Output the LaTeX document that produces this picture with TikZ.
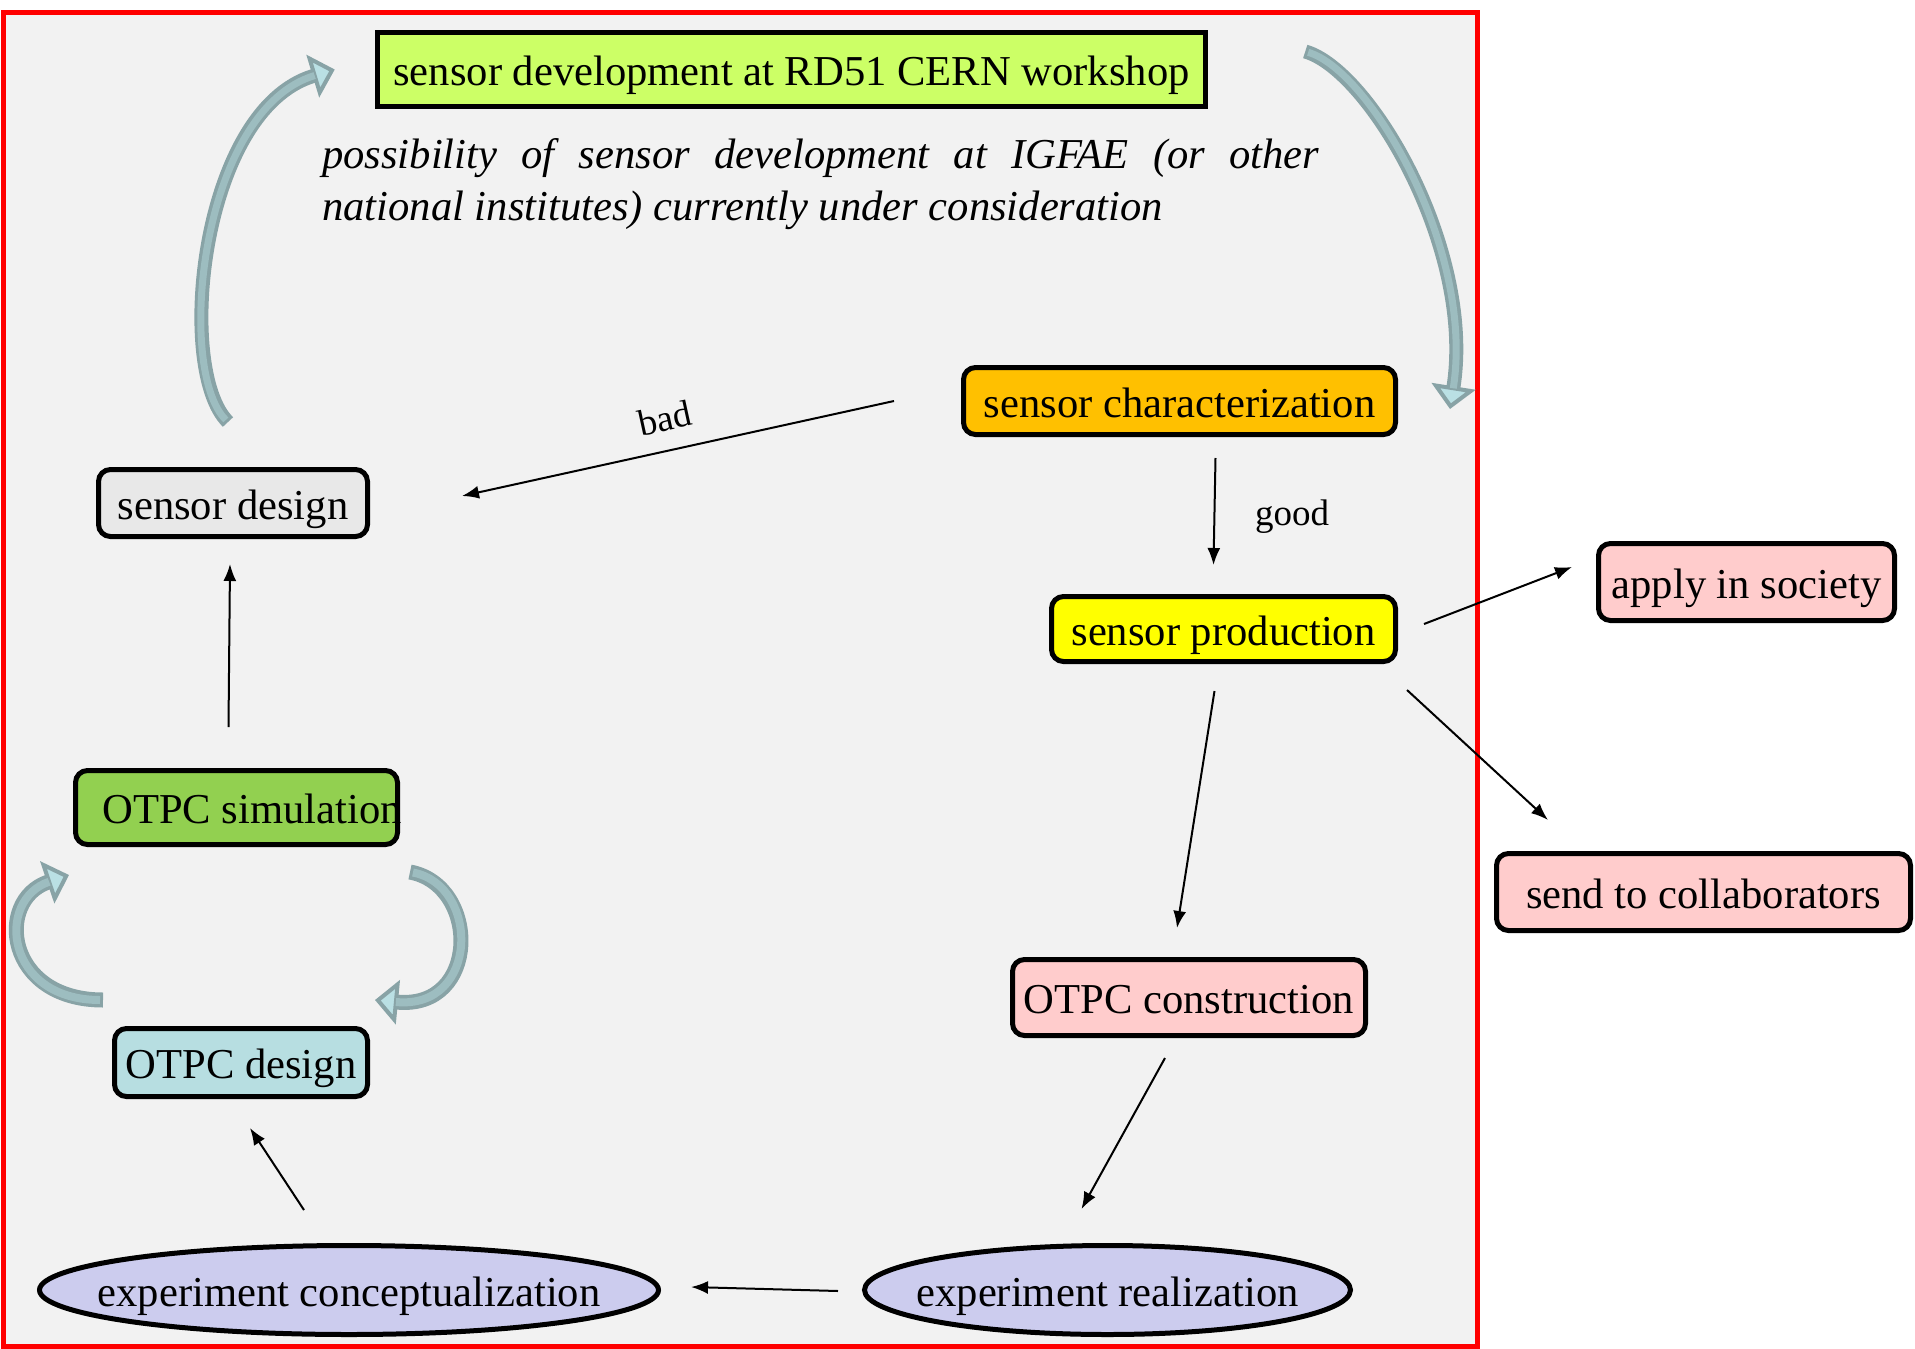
\documentclass[tikz,border=0pt]{standalone}
\usepackage{fontspec}
\setmainfont{Liberation Serif}
\usetikzlibrary{arrows.meta,shapes.geometric,calc}

\definecolor{frameRed}{HTML}{FF0000}
\definecolor{bgGray}{HTML}{F2F2F2}
\definecolor{limeFill}{HTML}{CCFF66}
\definecolor{orangeFill}{HTML}{FFC000}
\definecolor{grayFill}{HTML}{E8E8E8}
\definecolor{yellowFill}{HTML}{FFFF00}
\definecolor{pinkFill}{HTML}{FFCCCC}
\definecolor{greenFill}{HTML}{92D050}
\definecolor{blueFill}{HTML}{B7DEE1}
\definecolor{lavFill}{HTML}{CCCCEE}
\definecolor{bendDark}{HTML}{88A3A6}
\definecolor{bendMid}{HTML}{9DBDC0}
\definecolor{bendLight}{HTML}{BAE0E4}

\newcommand{\blockBend}[5]{%
  \draw[line width=#5+7pt, draw=bendDark,
    -{Triangle[length=23pt,width=44pt,line width=4pt,fill=bendLight,color=bendDark]}]
    #1 .. controls #2 and #3 .. #4;
  \draw[line width=#5, draw=bendMid, shorten >=21pt, shorten <=3pt]
    #1 .. controls #2 and #3 .. #4;
}

\begin{document}
\begin{tikzpicture}[x=1pt,y=-1pt,
  every node/.style={font=\fontsize{42.6pt}{51pt}\selectfont, inner sep=0pt},
  txt/.style={text height=41pt, text depth=9pt},
  box/.style={txt, draw=black, line width=5pt, rounded corners=12pt},
  oval/.style={txt, ellipse, draw=black, line width=5pt, fill=lavFill},
  arr/.style={line width=2pt, -{Latex[length=17pt,width=13pt]}},
  lab/.style={font=\fontsize{37pt}{44pt}\selectfont},
  note/.style={font=\fontsize{42.6pt}{51pt}\selectfont\itshape, anchor=base west}
]
\path[use as bounding box] (0,0) rectangle (1915,1349);
\draw[frameRed, fill=bgGray, line width=5pt] (3,12) rectangle (1477,1346);

% nodes
\node[txt, draw=black, line width=5.5pt, fill=limeFill, minimum width=828pt, minimum height=74pt] (top) at (791.5,69.5) {sensor development at RD51 CERN workshop};
\node[note] (note1) at (322,168) {\makebox[997pt][s]{possibility of sensor development at IGFAE (or other}};
\node[note] (note2) at (322,220) {national institutes) currently under consideration};

\node[box, fill=orangeFill, minimum width=432pt, minimum height=67pt] (char) at (1179.5,401) {sensor characterization};
\node[box, fill=grayFill, minimum width=269pt, minimum height=67pt] (design) at (233,503) {sensor design};
\node[box, fill=yellowFill, minimum width=344pt, minimum height=65pt] (prod) at (1223.5,629) {sensor production};
\node[box, fill=pinkFill, minimum width=296pt, minimum height=77pt] (apply) at (1746.5,582) {apply in society};
\node[box, fill=pinkFill, minimum width=414pt, minimum height=77pt] (collab) at (1703.5,892) {send to collaborators};
\node[box, fill=greenFill, minimum width=322pt, minimum height=74pt] (sim) at (236.5,807.5) {\makebox[0pt]{\hspace{31pt}OTPC simulation}};
\node[box, fill=blueFill, minimum width=253pt, minimum height=68pt] (odesign) at (241,1062.5) {OTPC design};
\node[box, fill=pinkFill, minimum width=353pt, minimum height=76pt] (constr) at (1189,997.5) {OTPC construction};
\node[oval, minimum width=619pt, minimum height=89pt] (concept) at (349,1290) {\makebox[0pt]{experiment conceptualization}};
\node[oval, minimum width=486pt, minimum height=89pt] (real) at (1107.5,1290) {\makebox[0pt]{experiment realization}};

% connectors
\draw[arr] ($(char.west)+(-67,0)$) -- ($(design.east)+(92,-7)$);
\node[lab, rotate=12.3] (badlab) at (665,418) {bad};
\draw[arr] ($(char.south)+(36,21)$) -- ($(prod.north)+(-10,-29)$);
\node[lab] (goodlab) at (1292,517) {good};
\draw[arr] ($(sim.north)+(-8,-41)$) -- ($(design.south)+(-3,25)$);
\draw[arr] ($(prod.south)+(-9,27)$) -- ($(constr.north)+(-12,-29)$);
\draw[arr] ($(prod.east)+(26,-5)$) -- ($(apply.west)+(-24,-15)$);
\draw[arr] ($(prod.south east)+(9,26)$) -- ($(collab.north west)+(54,-31)$);
\draw[arr] ($(constr.south)+(-24,20)$) -- ($(real.north)+(-26,-34)$);
\draw[arr] ($(real.west)+(-24,1)$) -- ($(concept.east)+(30,-3)$);
\draw[arr] ($(concept.north)+(-45,-33)$) -- ($(odesign.south)+(9,29)$);

% curved block arrows
\coordinate (b1s) at ($(design.north)+(-5,-45)$);
\coordinate (b1e) at ($(top.west)+(-40,0)$);
\blockBend{(b1s)}{(175,370)}{(200,110)}{(b1e)}{7pt}
\coordinate (b2s) at ($(top.east)+(97,-18)$);
\coordinate (b2e) at ($(char.east)+(52,8)$);
\blockBend{(b2s)}{(1370,70)}{(1475,250)}{(b2e)}{7pt}
\coordinate (b3s) at ($(odesign.north west)+(-9,-26)$);
\coordinate (b3e) at ($(sim.south west)+(-4,28)$);
\blockBend{(b3s)}{(5,1000)}{(-5,900)}{(b3e)}{8pt}
\coordinate (b4s) at ($(sim.south east)+(10,25)$);
\coordinate (b4e) at ($(odesign.north east)+(5,-26)$);
\blockBend{(b4s)}{(480,885)}{(480,1010)}{(b4e)}{8pt}
\end{tikzpicture}
\end{document}
